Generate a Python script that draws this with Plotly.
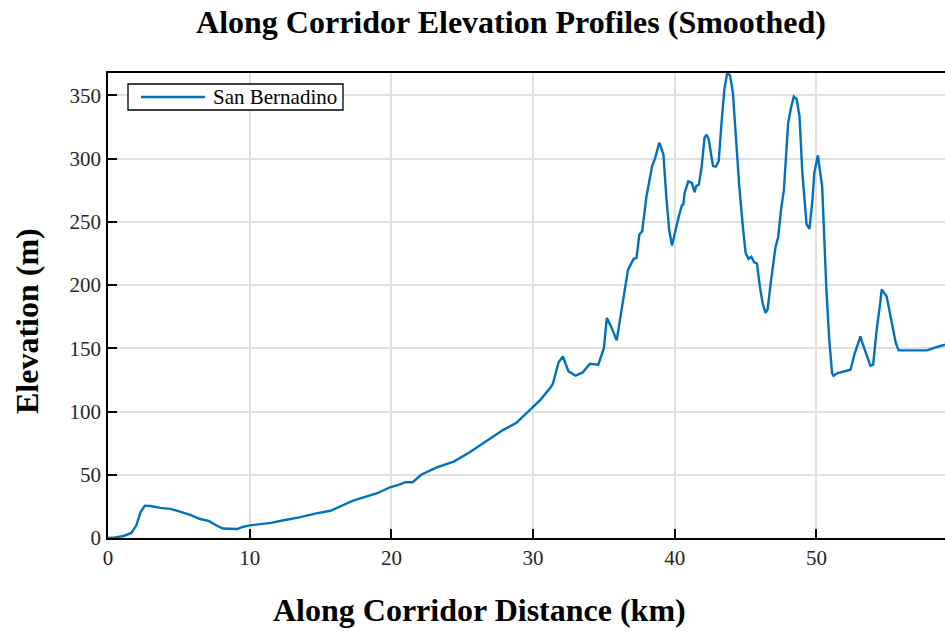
import plotly.graph_objects as go

# Smoothed elevation profile along the San Bernadino corridor
distance_km = [
    0.0, 0.5, 1.1, 1.65, 2.0, 2.3, 2.6, 3.0, 3.7, 4.4, 4.9, 5.8, 6.5, 7.1, 7.6,
    8.1, 9.1, 9.5, 10.0, 10.6, 11.5, 12.4, 13.5, 14.7, 15.7, 16.1, 17.3, 19.0,
    19.9, 20.5, 21.0, 21.5, 22.1, 23.2, 24.4, 25.5, 26.7, 27.9, 28.8, 30.0,
    30.5, 31.2, 31.4, 31.8, 32.1, 32.5, 33.0, 33.5, 34.0, 34.6, 35.0, 35.2,
    35.5, 35.9, 36.3, 36.7, 37.1, 37.3, 37.5, 37.7, 38.0, 38.4, 38.6, 38.9,
    39.0, 39.2, 39.4, 39.6, 39.8, 40.1, 40.3, 40.5, 40.6, 40.7, 40.95, 41.2,
    41.4, 41.5, 41.7, 41.9, 42.1, 42.25, 42.4, 42.6, 42.7, 42.9, 43.1, 43.3,
    43.5, 43.7, 43.9, 44.1, 44.3, 44.55, 44.8, 45.0, 45.2, 45.4, 45.6, 45.8,
    46.0, 46.2, 46.4, 46.55, 46.8, 47.1, 47.3, 47.5, 47.7, 47.9, 48.0, 48.2,
    48.4, 48.6, 48.8, 49.0, 49.3, 49.5, 49.7, 49.85, 50.1, 50.2, 50.4, 50.7,
    50.9, 51.1, 51.2, 51.5, 52.0, 52.4, 52.7, 53.1, 53.2, 53.6, 53.8, 54.0,
    54.25, 54.5, 54.6, 54.95, 55.3, 55.6, 55.8, 57.8, 58.5, 59.07,
]
elevation_m = [
    0.0, 0.4, 1.6, 4.0, 10.0, 20.5, 25.6, 25.3, 23.8, 23.0, 21.4, 18.2, 15.0,
    13.5, 10.3, 7.5, 7.1, 8.7, 10.0, 10.7, 12.0, 14.0, 16.3, 19.5, 21.5, 23.5,
    29.5, 35.4, 40.1, 42.0, 44.1, 44.1, 50.0, 55.8, 60.4, 67.6, 76.2, 85.5,
    90.8, 104.0, 109.0, 118.5, 122.0, 139.0, 143.5, 131.7, 128.3, 130.9, 137.8,
    137.0, 150.2, 174.0, 167.3, 156.2, 183.2, 212.2, 220.7, 221.5, 240.0,
    242.5, 270.0, 294.0, 299.8, 312.5, 309.8, 303.0, 270.0, 243.9, 231.2,
    246.5, 255.0, 263.0, 263.7, 273.0, 282.0, 280.8, 273.4, 278.0, 279.5,
    294.0, 316.5, 318.8, 315.0, 300.6, 294.0, 293.5, 298.0, 328.3, 354.7,
    367.6, 365.8, 352.0, 315.0, 278.0, 246.5, 225.4, 220.7, 222.3, 218.0,
    217.0, 199.0, 185.8, 178.0, 180.5, 204.3, 229.4, 238.0, 259.7, 275.0,
    310.0, 328.0, 340.0, 349.0, 347.0, 333.6, 289.0, 248.0, 244.4, 265.0,
    289.0, 302.5, 294.0, 278.0, 196.0, 157.0, 130.4, 128.3, 130.4, 131.7,
    133.0, 146.0, 159.4, 155.4, 142.3, 136.2, 137.0, 164.7, 185.8, 196.4,
    191.0, 172.6, 154.0, 148.3, 148.3, 151.0, 152.8,
]

x_ticks = [0, 10, 20, 30, 40, 50]
y_ticks = [0, 50, 100, 150, 200, 250, 300, 350]
series_name = "San Bernadino"

SERIF = "Liberation Serif"
LINE_BLUE = "#0072BD"
GRID = "#e0e0e0"

# plot-area geometry in pixels
PL, PR, PT, PB = 108, 945, 73, 538
PW, PH = PR - PL, PB - PT


def px_x(p):
    return (p - PL) / PW


def px_y(p):
    return (PB - p) / PH


fig = go.Figure()
fig.add_trace(go.Scatter(
    x=distance_km, y=elevation_m, mode="lines",
    name=series_name, showlegend=False,
    line=dict(color=LINE_BLUE, width=2.4),
))

axis_common = dict(
    showline=True, linecolor="black", linewidth=1.6,
    ticks="inside", ticklen=9, tickwidth=1.5, tickcolor="black",
    showgrid=True, gridcolor=GRID, gridwidth=2,
    zeroline=False, layer="below traces",
    tickfont=dict(family=SERIF, size=21, color="#262626"),
)

fig.update_xaxes(
    range=[0, max(distance_km)], tickvals=x_ticks, mirror=True,
    **axis_common,
)
fig.update_yaxes(
    range=[0, max(elevation_m)], tickvals=y_ticks, mirror=False,
    ticklabelstandoff=1,
    **axis_common,
)

# boxed legend entry in the upper-left corner
shapes = [
    dict(type="rect", xref="paper", yref="paper",
         x0=px_x(128), x1=px_x(343), y0=px_y(110), y1=px_y(84),
         fillcolor="white", line=dict(color="black", width=1.3), layer="above"),
    dict(type="line", xref="paper", yref="paper",
         x0=px_x(141), x1=px_x(205), y0=px_y(97), y1=px_y(97),
         line=dict(color=LINE_BLUE, width=2.4), layer="above"),
]

fig.update_layout(
    width=945, height=633,
    margin=dict(l=PL, r=945 - PR, t=PT, b=633 - PB),
    paper_bgcolor="white", plot_bgcolor="white",
    font=dict(family=SERIF, color="black"),
    title=dict(
        text="<b>Along Corridor Elevation Profiles (Smoothed)</b>",
        font=dict(family=SERIF, size=32, color="black"),
        xref="container", x=511 / 945, xanchor="center",
        yref="container", y=1 - 22 / 633, yanchor="middle",
    ),
    showlegend=False,
    shapes=shapes,
    annotations=[
        dict(
            text=series_name,
            xref="paper", yref="paper", x=px_x(211), y=px_y(97),
            xanchor="left", yanchor="middle", showarrow=False,
            font=dict(family=SERIF, size=21, color="black"),
        ),
        dict(
            text="<b>Along Corridor Distance (km)</b>",
            xref="paper", yref="paper", x=px_x(479.5), y=px_y(610),
            xanchor="center", yanchor="middle", showarrow=False,
            font=dict(family=SERIF, size=32, color="black"),
        ),
        dict(
            text="<b>Elevation (m)</b>",
            xref="paper", yref="paper", x=px_x(27), y=px_y(321),
            xanchor="center", yanchor="middle", showarrow=False, textangle=-90,
            font=dict(family=SERIF, size=32, color="black"),
        ),
    ],
)

fig.write_html("out.html")
